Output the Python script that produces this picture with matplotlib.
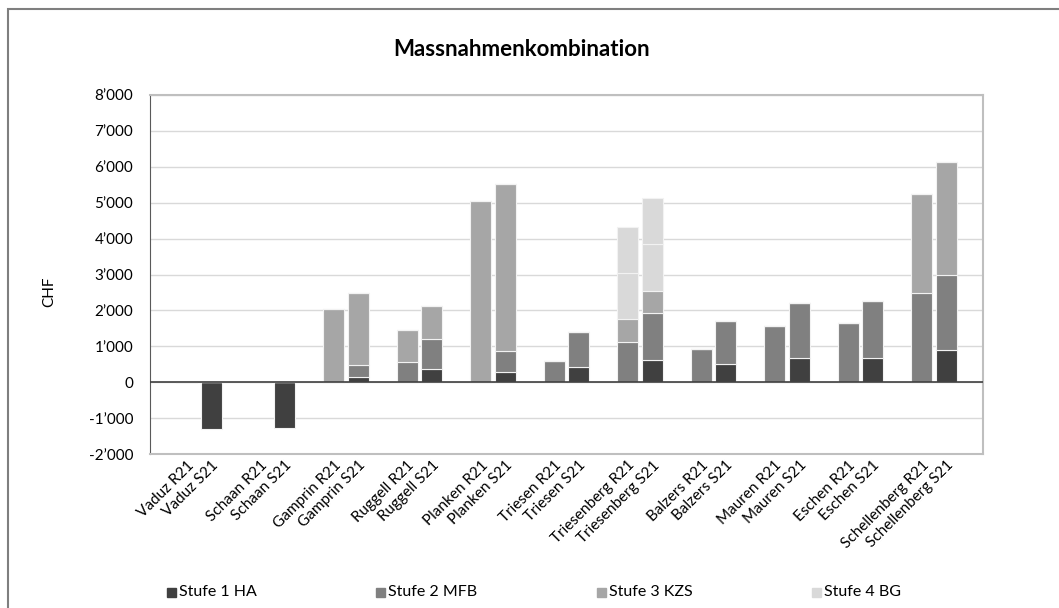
import numpy as np
import matplotlib
matplotlib.use('Agg')
from matplotlib import pyplot as plt
from matplotlib.patches import Rectangle

plt.rcParams['font.family'] = ['Lato', 'DejaVu Sans']

# Gemeinden, je R21 und S21
gemeinden = ['Vaduz', 'Schaan', 'Gamprin', 'Ruggell', 'Planken', 'Triesen',
             'Triesenberg', 'Balzers', 'Mauren', 'Eschen', 'Schellenberg']
varianten = ['R21', 'S21']
labels = [f'{g} {v}' for g in gemeinden for v in varianten]

# Werte in CHF, Reihenfolge wie labels
stufe1_ha = [0, -1300, 0, -1280, 0, 156, 0, 379, 0, 287, 0, 435,
             0, 613, 0, 518, 0, 677, 0, 677, 0, 908]
stufe2_mfb = [0, 0, 0, 0, 0, 334, 574, 836, 0, 593, 593, 975,
              1114, 1326, 919, 1198, 1577, 1523, 1652, 1582, 2487, 2081]
stufe3_kzs = [0, 0, 0, 0, 2030, 1990, 891, 910, 5058, 4635, 0, 0,
              658, 604, 0, 0, 0, 0, 0, 0, 2758, 3139]
stufe4_bg = [0, 0, 0, 0, 0, 0, 0, 0, 0, 0, 0, 0,
             1281, 1301, 0, 0, 0, 0, 0, 0, 0, 0]
stufe4_bg_2 = [0, 0, 0, 0, 0, 0, 0, 0, 0, 0, 0, 0,
               1281, 1290, 0, 0, 0, 0, 0, 0, 0, 0]

serien = [('Stufe 1 HA', stufe1_ha, '#404040'),
          ('Stufe 2 MFB', stufe2_mfb, '#808080'),
          ('Stufe 3 KZS', stufe3_kzs, '#a6a6a6'),
          ('Stufe 4 BG', stufe4_bg, '#d9d9d9'),
          (None, stufe4_bg_2, '#d9d9d9')]

W, H = 1059, 608
fig = plt.figure(figsize=(W / 100, H / 100), dpi=100)
# Rahmen des Diagramms (rechts und unten abgeschnitten)
fig.patches.append(Rectangle((8 / W, -0.05), 1.1, 1.05 - 9 / H, transform=fig.transFigure,
                             fill=False, edgecolor='#7f7f7f', linewidth=1.5))
ax = fig.add_axes([150 / W, 1 - 454 / H, 833 / W, 359 / H])

# je Gemeinde: Leerplatz, R21, S21
x = np.array([3 * i + k for i in range(len(gemeinden)) for k in (1, 2)])

pos_base = np.zeros(len(labels))
neg_base = np.zeros(len(labels))
for name, werte, farbe in serien:
    werte = np.array(werte, dtype=float)
    bottom = np.where(werte >= 0, pos_base, neg_base)
    ax.bar(x, werte, width=0.86, bottom=bottom, color=farbe,
           edgecolor='#f2f2f2', linewidth=0.8, zorder=3)
    pos_base += np.where(werte > 0, werte, 0)
    neg_base += np.where(werte < 0, werte, 0)

ax.set_xlim(-0.5, 33.5)
ax.set_ylim(-2000, 8000)
yticks = list(range(-2000, 8001, 1000))
ax.set_yticks(yticks)
ax.set_yticklabels([f'{v // 1000}\u2019000' if v != 0 else '0' for v in yticks], fontsize=11)
ax.yaxis.grid(True, color='#d9d9d9', linewidth=1, zorder=0)
ax.axhline(0, color='#404040', linewidth=1.2, zorder=4)
ax.tick_params(axis='y', length=0, pad=12)
ax.tick_params(axis='x', length=0, pad=3)
ax.set_xticks(x)
ax.set_xticklabels(labels, rotation=45, ha='right', rotation_mode='anchor', fontsize=11)
for s in ['top', 'right', 'bottom']:
    ax.spines[s].set_color('#bfbfbf')
    ax.spines[s].set_linewidth(1.5)
ax.spines['left'].set_color('#595959')

fig.text(49 / W, 1 - 292 / H, 'CHF', rotation=90, ha='center', va='center', fontsize=11)
fig.text(522 / W, 1 - 49 / H, 'Massnahmenkombination', ha='center', va='center',
         fontsize=16, fontweight='bold')

# Legende
leg_x = [167, 376, 597, 812]
for (name, werte, farbe), lx in zip(serien[:4], leg_x):
    fig.patches.append(Rectangle((lx / W, 1 - 597 / H), 9 / W, 9 / H,
                                 transform=fig.transFigure, color=farbe))
    fig.text((lx + 12) / W, 1 - 592 / H, name, ha='left', va='center', fontsize=11.5)

fig.savefig('out.png', dpi=100)
